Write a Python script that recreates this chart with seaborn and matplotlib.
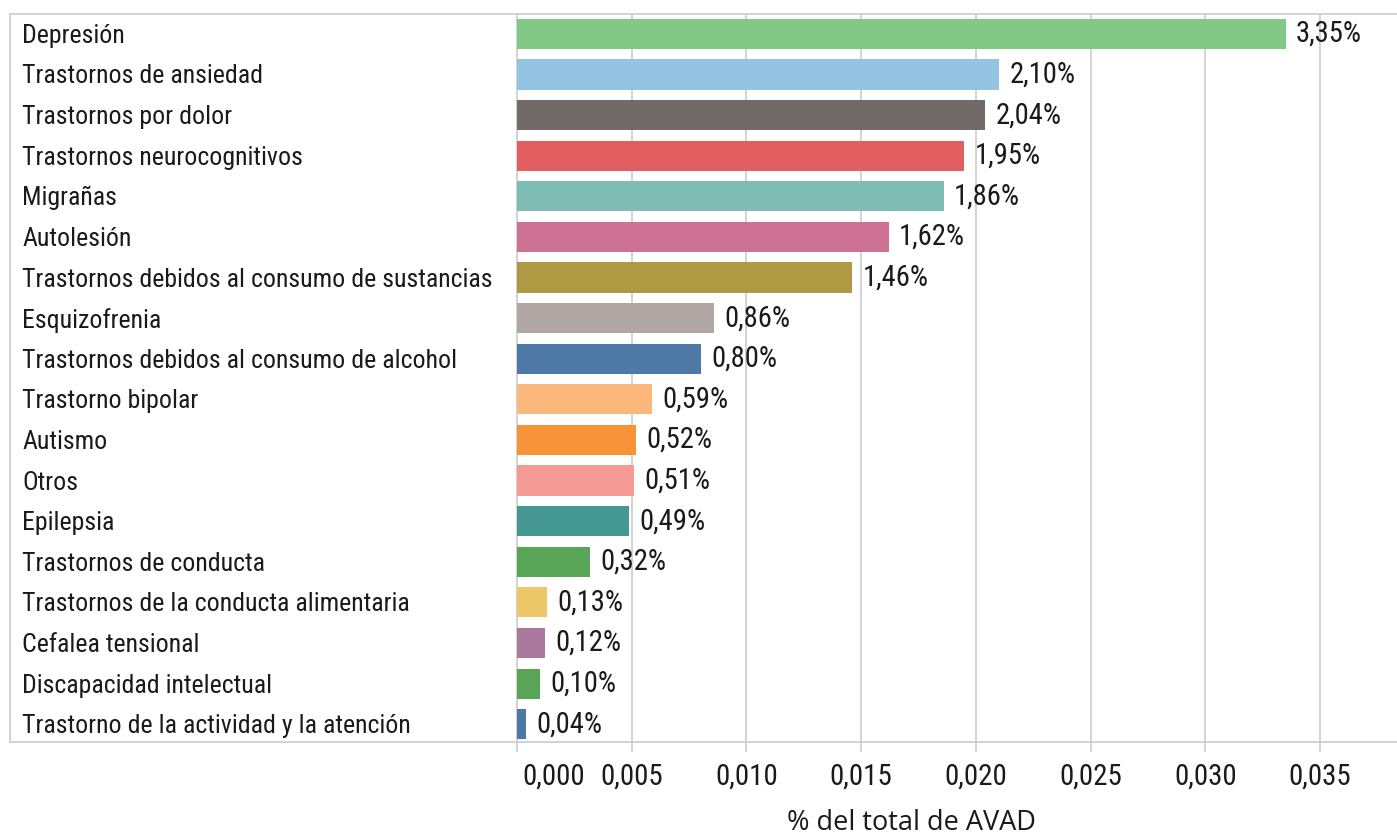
import matplotlib
matplotlib.use("Agg")
import matplotlib.pyplot as plt
import matplotlib.transforms as mtransforms
from matplotlib import font_manager
import seaborn as sns
import numpy as np
import pandas as pd

categories = [
    "Depresión",
    "Trastornos de ansiedad",
    "Trastornos por dolor",
    "Trastornos neurocognitivos",
    "Migrañas",
    "Autolesión",
    "Trastornos debidos al consumo de sustancias",
    "Esquizofrenia",
    "Trastornos debidos al consumo de alcohol",
    "Trastorno bipolar",
    "Autismo",
    "Otros",
    "Epilepsia",
    "Trastornos de conducta",
    "Trastornos de la conducta alimentaria",
    "Cefalea tensional",
    "Discapacidad intelectual",
    "Trastorno de la actividad y la atención",
]
values = [0.0335, 0.0210, 0.0204, 0.0195, 0.0186, 0.0162, 0.0146, 0.0086, 0.0080,
          0.0059, 0.0052, 0.0051, 0.0049, 0.0032, 0.0013, 0.0012, 0.0010, 0.0004]
value_labels = ["3,35%", "2,10%", "2,04%", "1,95%", "1,86%", "1,62%", "1,46%", "0,86%", "0,80%",
                "0,59%", "0,52%", "0,51%", "0,49%", "0,32%", "0,13%", "0,12%", "0,10%", "0,04%"]
colors = ["#82C985", "#93C5E3", "#706A69", "#E15F61", "#7EBDB4", "#CE7294", "#AF9A43",
          "#B1A7A4", "#4E79A7", "#FCB77C", "#F89337", "#F59A96", "#469992", "#59A557",
          "#EDC86A", "#AA799E", "#59A557", "#4E79A7"]
xticks = [0.0, 0.005, 0.010, 0.015, 0.020, 0.025, 0.030, 0.035]
xtick_labels = ["0,000", "0,005", "0,010", "0,015", "0,020", "0,025", "0,030", "0,035"]
xlabel = "% del total de AVAD"

sns.set_theme(style="white")


def wnum(w):
    if isinstance(w, (int, float)):
        return w
    return font_manager.weight_dict.get(w, 400)


def pick_font():
    fl = font_manager.fontManager.ttflist
    def ok(f):
        return f.style == "normal" and 350 <= wnum(f.weight) <= 450
    for nm in ["Roboto Condensed", "Liberation Sans Narrow", "Open Sans Condensed", "Noto Sans Condensed"]:
        for f in fl:
            if f.name == nm and ok(f):
                return f.fname
    for st in ["condensed", "semi-condensed"]:
        for nm in ["Roboto", "Noto Sans", "Open Sans", "Inter", "Lato", "DejaVu Sans"]:
            for f in fl:
                if f.name == nm and f.stretch == st and ok(f):
                    return f.fname
    return font_manager.findfont("DejaVu Sans")


FONT = pick_font()
FONT_REG = font_manager.findfont(font_manager.FontProperties(family=["Open Sans", "Noto Sans", "DejaVu Sans"]))
plt.rcParams["font.family"] = ["DejaVu Sans"]

W, H = 1397, 835
fig = plt.figure(figsize=(W / 100, H / 100), dpi=100)
renderer = fig.canvas.get_renderer()


def fit(text, fname, target_px, cap):
    probe = fig.text(0, 0, text, fontproperties=font_manager.FontProperties(fname=fname, size=20))
    wpx = probe.get_window_extent(renderer).width
    probe.remove()
    return min(cap, 20.0 * target_px / wpx)


fp = font_manager.FontProperties(fname=FONT, size=fit(categories[6], FONT, 470, 21))
fp_val = font_manager.FontProperties(fname=FONT, size=fit("3,35%", FONT, 66, 23))
fp_tick = font_manager.FontProperties(fname=FONT, size=fit("0,005", FONT, 63, 24))
fp_xl = font_manager.FontProperties(fname=FONT_REG, size=fit(xlabel, FONT_REG, 248, 21))

ax = fig.add_axes([10 / W, 1 - 742 / H, 1387 / W, (742 - 14) / H])

df = pd.DataFrame({"cat": categories, "val": values})
sns.barplot(data=df, x="val", y="cat", hue="cat", palette=colors, legend=False,
            orient="h", width=0.74, ax=ax, saturation=1, linewidth=0, zorder=3)

txtc = "#1a1a1a"
gridc = "#cccccc"

px_per_unit = (1320 - 517) / 0.035
ax.set_xlim((10 - 517) / px_per_unit, (1397 - 517) / px_per_unit)
ax.set_ylim(len(categories) - 1 + 0.44, -0.49)

down = mtransforms.ScaledTranslation(0, -2 / 100, fig.dpi_scale_trans)

idx = 0
for c in ax.containers:
    labs = value_labels[idx: idx + len(c)]
    for t in ax.bar_label(c, labels=labs, padding=7.5, color=txtc):
        t.set_fontproperties(fp_val)
        t.set_zorder(5)
    idx += len(c)

trans = mtransforms.blended_transform_factory(ax.transAxes, ax.transData)
for i, cat in enumerate(categories):
    ax.text(12 / 1387, i, cat, transform=trans + down, ha="left", va="center",
            fontproperties=fp, color=txtc, zorder=5)

TL, PAD = 7.5, 7.5
ax.set_yticks([])
ax.set_ylabel("")
ax.set_xlabel("")
ax.set_xticks(xticks)
ax.set_xticklabels([""] + xtick_labels[1:])
for t in ax.get_xticklabels():
    t.set_fontproperties(fp_tick)
ax.tick_params(axis="x", direction="out", length=TL, width=1.2, color=gridc,
               pad=PAD, labelcolor=txtc, bottom=True)
ax.grid(axis="x", color=gridc, linewidth=1.2, zorder=0)
ax.grid(axis="y", visible=False)
ax.set_axisbelow(True)

tb = mtransforms.blended_transform_factory(ax.transData, ax.transAxes)
ax.text(xticks[0], 0, xtick_labels[0],
        transform=tb + mtransforms.ScaledTranslation(5 / 100, -(TL + PAD) / 72, fig.dpi_scale_trans),
        ha="left", va="top", fontproperties=fp_tick, color=txtc)

for s in ["left", "top", "bottom"]:
    ax.spines[s].set_visible(True)
    ax.spines[s].set_color(gridc)
    ax.spines[s].set_linewidth(1.2)
ax.spines["right"].set_visible(False)

fig.text(911 / W, 1 - 823 / H, xlabel, ha="center", va="center", fontproperties=fp_xl, color=txtc)

fig.savefig("out.png", dpi=100)
